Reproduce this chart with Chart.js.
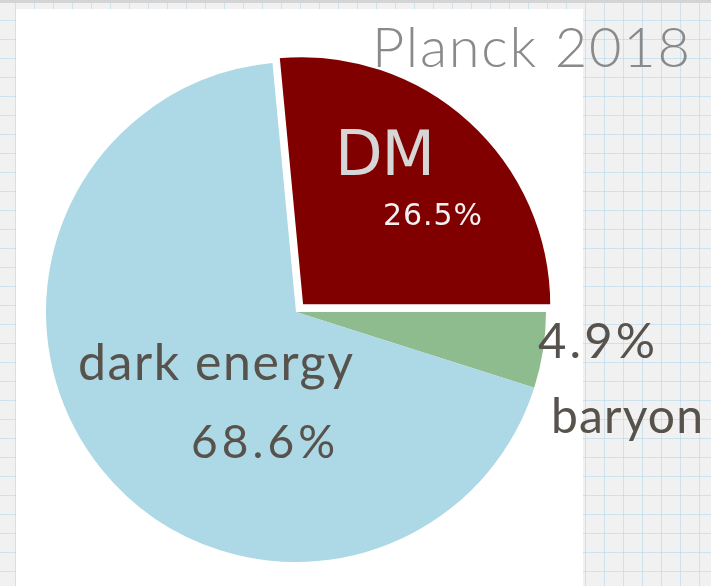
<!DOCTYPE html>
<html>
<head>
<meta charset="utf-8">
<script src="https://cdn.jsdelivr.net/npm/chart.js@4"></script>
<style>
  html, body { margin: 0; padding: 0; }
  body {
    width: 711px; height: 586px; overflow: hidden; position: relative;
    background-color: #f1f1f1;
    background-image:
      linear-gradient(to right, rgba(170, 210, 235, 0.5) 1px, transparent 1px),
      linear-gradient(to bottom, rgba(170, 210, 235, 0.5) 1px, transparent 1px);
    background-size: 19px 19px;
    background-position: 15px 1px;
  }
  #topband { position: absolute; left: 0; top: 0; width: 711px; height: 3px; background: #d4d4d4; }
  #panel { position: absolute; left: 16px; top: 9px; width: 567px; height: 577px; background: #fff; }
  #myChart { position: absolute; left: 0; top: 0; }
</style>
</head>
<body>
<div id="topband"></div>
<div id="panel"></div>
<canvas id="myChart" width="711" height="586"></canvas>
<script>
// Planck 2018 energy budget of the universe
const labels = ['DM', 'baryon', 'dark energy'];
const shares = [26.5, 4.9, 68.6];
const colors = ['#800000', '#8fbc8f', '#add8e6'];
const title = 'Planck 2018';

const pct = v => v.toFixed(1) + '%';

// where each piece of text goes: left edge, baseline, and the width it is spread to
const texts = [
  { text: labels[0],      x: 335, y: 175, w: 100, font: '62px "DejaVu Sans"', color: '#d6d6d6' },
  { text: pct(shares[0]), x: 383, y: 225, w: 99,  font: '30px "DejaVu Sans"', color: '#f2f2f2' },
  { text: pct(shares[1]), x: 538, y: 358, w: 117, font: '49px Lato', color: '#57524b' },
  { text: labels[1],      x: 551, y: 433, w: 152, font: '48px Lato', color: '#57524b' },
  { text: labels[2],      x: 78,  y: 380, w: 275, font: '50px Lato', color: '#57524b' },
  { text: pct(shares[2]), x: 191, y: 458, w: 144, font: '46px Lato', color: '#57524b' },
  { text: title,          x: 372, y: 67,  w: 318, font: '300 56px Lato', color: '#8a8a8a' }
];

const textPlugin = {
  id: 'pieText',
  afterDraw(chart) {
    const c = chart.ctx;
    c.save();
    c.textAlign = 'left';
    c.textBaseline = 'alphabetic';
    texts.forEach(t => {
      c.font = t.font;
      c.letterSpacing = '0px';
      const natural = c.measureText(t.text).width;
      const gap = (t.w - natural) / Math.max(t.text.length - 1, 1);
      c.letterSpacing = gap.toFixed(2) + 'px';
      c.fillStyle = t.color;
      c.fillText(t.text, t.x, t.y);
    });
    c.restore();
  }
};

let ctx = document.getElementById('myChart').getContext('2d');
let chart = new Chart(ctx, {
  type: 'pie',
  data: {
    labels: labels,
    datasets: [{
      data: shares,
      backgroundColor: colors,
      borderColor: '#ffffff',
      borderWidth: [3, 0, 0],
      offset: [34, 0, 0],
      hoverOffset: 0
    }]
  },
  options: {
    responsive: false,
    animation: false,
    rotation: -5.4,
    radius: 250,
    layout: { padding: { left: 0, right: 119, top: 38, bottom: 0 } },
    plugins: {
      legend: { display: false },
      tooltip: { enabled: false }
    },
    events: []
  },
  plugins: [textPlugin]
});
</script>
</body>
</html>
